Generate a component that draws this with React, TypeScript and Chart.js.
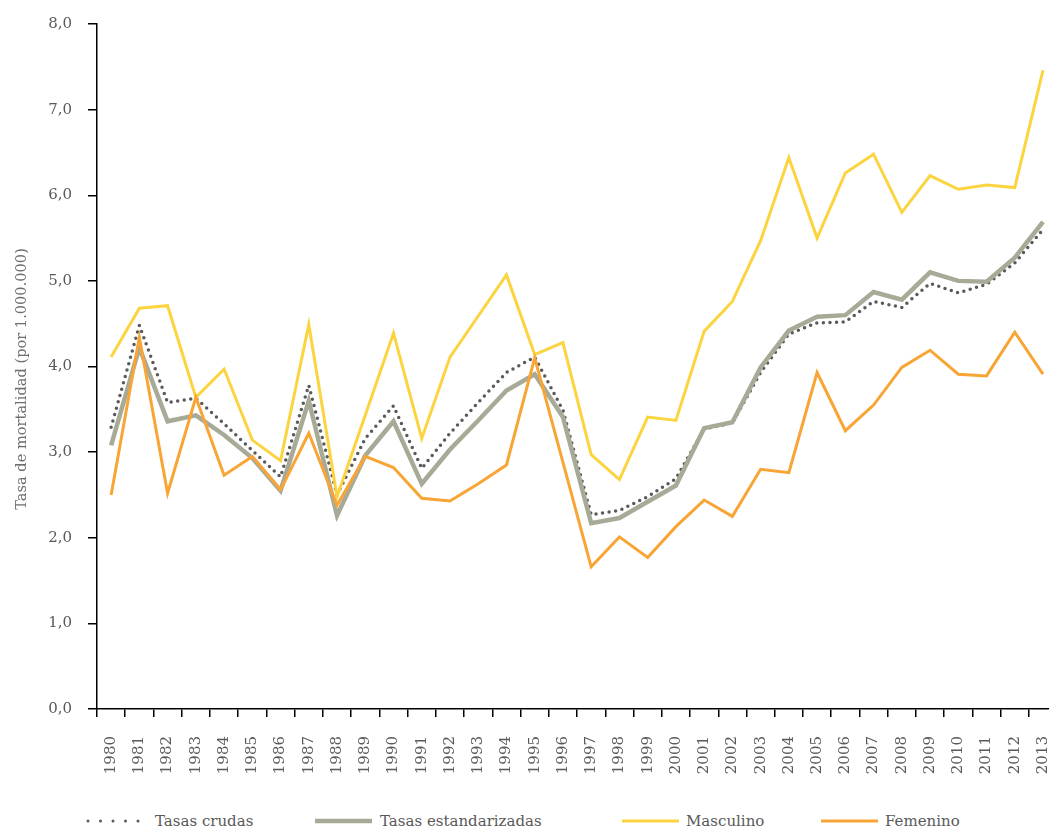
import React, { useEffect, useRef } from "react";
import { Chart, registerables } from "chart.js";

Chart.register(...registerables);

const years = [
  "1980", "1981", "1982", "1983", "1984", "1985", "1986", "1987", "1988", "1989",
  "1990", "1991", "1992", "1993", "1994", "1995", "1996", "1997", "1998", "1999",
  "2000", "2001", "2002", "2003", "2004", "2005", "2006", "2007", "2008", "2009",
  "2010", "2011", "2012", "2013",
];

const tasasCrudas = [
  3.29, 4.48, 3.58, 3.63, 3.33, 3.02, 2.71, 3.78, 2.5, 3.16,
  3.54, 2.81, 3.22, 3.58, 3.93, 4.11, 3.49, 2.27, 2.32, 2.48,
  2.69, 3.27, 3.34, 3.93, 4.38, 4.51, 4.52, 4.76, 4.69, 4.97,
  4.86, 4.96, 5.21, 5.6,
];

const tasasEstandarizadas = [
  3.08, 4.22, 3.36, 3.43, 3.2, 2.93, 2.55, 3.6, 2.26, 2.96,
  3.36, 2.63, 3.03, 3.37, 3.72, 3.91, 3.41, 2.17, 2.23, 2.42,
  2.61, 3.28, 3.35, 3.99, 4.42, 4.58, 4.6, 4.87, 4.78, 5.1,
  5.0, 4.99, 5.27, 5.69,
];

const masculino = [
  4.11, 4.68, 4.71, 3.64, 3.97, 3.14, 2.9, 4.49, 2.48, 3.43,
  4.39, 3.16, 4.11, 4.59, 5.07, 4.14, 4.28, 2.97, 2.68, 3.41,
  3.37, 4.41, 4.76, 5.47, 6.44, 5.5, 6.26, 6.48, 5.8, 6.23,
  6.07, 6.12, 6.09, 7.46,
];

const femenino = [
  2.5, 4.34, 2.52, 3.64, 2.73, 2.95, 2.56, 3.22, 2.38, 2.95,
  2.82, 2.46, 2.43, 2.63, 2.85, 4.1, 2.88, 1.66, 2.01, 1.77,
  2.13, 2.44, 2.25, 2.8, 2.76, 3.93, 3.25, 3.55, 3.99, 4.19,
  3.91, 3.89, 4.4, 3.91,
];

const yTicks = [0, 1, 2, 3, 4, 5, 6, 7, 8];
const yTitle = "Tasa de mortalidad (por 1.000.000)";

const FONT = "'DejaVu Serif', serif";
const TEXT = "#595959";
const C_CRUDAS = "#5a5a5a";
const C_EST = "#a8aa98";
const C_MASC = "#fbd440";
const C_FEM = "#f8a535";

const yTitlePlugin = {
  id: "yTitlePlugin",
  afterDraw(chart: any) {
    const ctx = chart.ctx;
    ctx.save();
    ctx.translate(14, 380);
    ctx.rotate(-Math.PI / 2);
    ctx.font = `14.6px ${FONT}`;
    ctx.fillStyle = "#6e6e6e";
    ctx.textAlign = "center";
    ctx.textBaseline = "middle";
    ctx.fillText(yTitle, 0, 0);
    ctx.restore();
  },
};

function LegendLine({ color, width, dotted }: { color: string; width: number; dotted?: boolean }) {
  return (
    <svg width={58} height={10} style={{ display: "block" }}>
      {dotted ? (
        <line x1={2} y1={5} x2={56} y2={5} stroke={color} strokeWidth={3} strokeLinecap="round" strokeDasharray="0 12.5" />
      ) : (
        <line x1={0} y1={5} x2={57} y2={5} stroke={color} strokeWidth={width} />
      )}
    </svg>
  );
}

export default function App() {
  const ref = useRef<HTMLCanvasElement | null>(null);

  useEffect(() => {
    document.body.style.marginRight = "0px";
    document.body.style.marginBottom = "0px";
    if (!ref.current) return;
    const chart = new Chart(ref.current, {
      type: "line",
      data: {
        labels: years,
        datasets: [
          {
            label: "Tasas crudas",
            data: tasasCrudas,
            borderColor: C_CRUDAS,
            borderWidth: 3.5,
            borderDash: [0, 6.6],
            borderCapStyle: "round",
            pointRadius: 0,
            tension: 0,
            order: 4,
          },
          {
            label: "Tasas estandarizadas",
            data: tasasEstandarizadas,
            borderColor: C_EST,
            borderWidth: 4.5,
            pointRadius: 0,
            tension: 0,
            order: 3,
          },
          {
            label: "Masculino",
            data: masculino,
            borderColor: C_MASC,
            borderWidth: 3,
            pointRadius: 0,
            tension: 0,
            order: 2,
          },
          {
            label: "Femenino",
            data: femenino,
            borderColor: C_FEM,
            borderWidth: 3,
            pointRadius: 0,
            tension: 0,
            order: 1,
          },
        ],
      },
      options: {
        animation: false,
        responsive: false,
        maintainAspectRatio: false,
        layout: { padding: { top: 6, left: 0, right: 0, bottom: 0 } },
        plugins: {
          legend: { display: false },
          tooltip: { enabled: false },
        },
        scales: {
          x: {
            type: "category",
            offset: true,
            grid: {
              display: true,
              offset: true,
              drawOnChartArea: false,
              drawTicks: true,
              tickLength: 8,
              color: "#000",
              lineWidth: 1.5,
            },
            border: { display: true, color: "#000", width: 1.5 },
            ticks: {
              autoSkip: false,
              maxRotation: 90,
              minRotation: 90,
              padding: 19,
              color: TEXT,
              font: { family: FONT, size: 15 },
            },
            afterFit: (scale: any) => {
              scale.height = 79;
            },
          },
          y: {
            min: 0,
            max: 8,
            afterBuildTicks: (scale: any) => {
              scale.ticks = yTicks.map((v) => ({ value: v }));
            },
            grid: {
              display: true,
              drawOnChartArea: false,
              drawTicks: true,
              tickLength: 9,
              color: "#000",
              lineWidth: 1.5,
            },
            border: { display: true, color: "#000", width: 1.5 },
            ticks: {
              padding: 16,
              color: TEXT,
              font: { family: FONT, size: 15 },
              callback: (v: any) => Number(v).toFixed(1).replace(".", ","),
            },
            afterFit: (scale: any) => {
              scale.width = 89;
            },
          },
        },
      },
      plugins: [yTitlePlugin],
    });
    return () => chart.destroy();
  }, []);

  const legendText: React.CSSProperties = {
    position: "absolute",
    top: 0,
    fontFamily: FONT,
    fontSize: 15,
    color: TEXT,
    lineHeight: "20px",
    whiteSpace: "nowrap",
  };
  const legendLine: React.CSSProperties = { position: "absolute", top: 5 };

  return (
    <div style={{ position: "relative", width: 1041, height: 824, overflow: "hidden" }}>
      <canvas
        ref={ref}
        width={1072}
        height={789}
        style={{ display: "block", width: 1072, height: 789, marginTop: -9 }}
      />
      <div style={{ position: "absolute", top: 803, left: 0, width: 1041, height: 20 }}>
        <div style={{ ...legendLine, left: 78 }}>
          <LegendLine color={C_CRUDAS} width={3} dotted />
        </div>
        <div style={{ ...legendText, left: 147 }}>Tasas crudas</div>
        <div style={{ ...legendLine, left: 307 }}>
          <LegendLine color={C_EST} width={4.5} />
        </div>
        <div style={{ ...legendText, left: 372 }}>Tasas estandarizadas</div>
        <div style={{ ...legendLine, left: 614 }}>
          <LegendLine color={C_MASC} width={3} />
        </div>
        <div style={{ ...legendText, left: 678 }}>Masculino</div>
        <div style={{ ...legendLine, left: 813 }}>
          <LegendLine color={C_FEM} width={3} />
        </div>
        <div style={{ ...legendText, left: 877 }}>Femenino</div>
      </div>
    </div>
  );
}
